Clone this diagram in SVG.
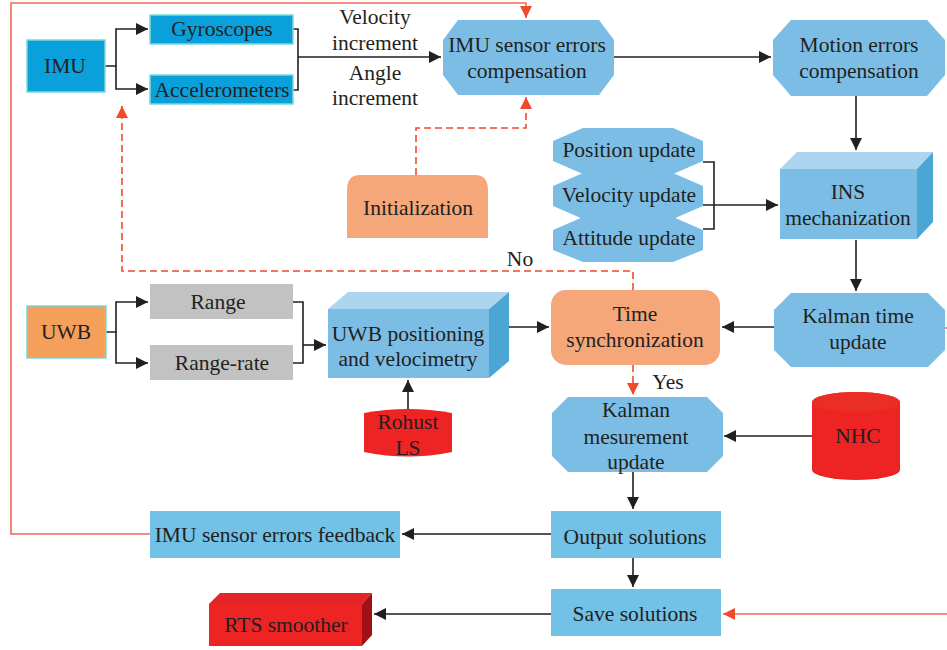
<svg xmlns="http://www.w3.org/2000/svg" width="947" height="650" viewBox="0 0 947 650">
<defs>
<marker id="ab" markerUnits="userSpaceOnUse" markerWidth="13" markerHeight="12" refX="12" refY="6" orient="auto"><path d="M0,0 L12,6 L0,12 z" fill="#231f20"/></marker>
<marker id="ar" markerUnits="userSpaceOnUse" markerWidth="13" markerHeight="12" refX="12" refY="6" orient="auto"><path d="M0,0 L12,6 L0,12 z" fill="#ef4a2a"/></marker>
</defs>
<style>
text{font-family:"Liberation Serif","Times New Roman",serif;font-size:21.5px;fill:#231f20;text-anchor:middle;dominant-baseline:central}
.blue{fill:#7bbde5}
.box{fill:#72c1e6}
.cyan{fill:#0aa0dc;stroke:#7fd8d8;stroke-width:1.5}
.gray{fill:#c1c2c1}
.org{fill:#f5a77a}
.red{fill:#ee2424}
.top{fill:#acd6ef}
.side{fill:#4ba6d6}
.c{fill:none;stroke:#231f20;stroke-width:1.6}
.cg{fill:none;stroke:#555;stroke-width:1.8}
.r{fill:none;stroke:#ef6a55;stroke-width:1.6}
.rd{fill:none;stroke:#ef4a2a;stroke-width:1.6;stroke-dasharray:7 4}
</style>
<g id="connectors">
<path class="r" d="M150,534 H11 V3 H526 V18" marker-end="url(#ar)"/>
<path class="r" d="M947,614 H723" marker-end="url(#ar)"/>
<path class="r" d="M945,328 H947"/>
<path class="rd" d="M416,175 V128 H526 V97" marker-end="url(#ar)"/>
<path class="rd" d="M633,290 V271 H122 V106" marker-end="url(#ar)"/>
<path class="rd" d="M633,365 V395" marker-end="url(#ar)"/>
<path class="c" d="M105,66 H116 V29 H148" marker-end="url(#ab)"/>
<path class="c" d="M116,66 V89 H148" marker-end="url(#ab)"/>
<path class="c" d="M293,29 H298 V90 H293"/>
<path class="c" d="M298,57 H441" marker-end="url(#ab)"/>
<path class="c" d="M614,57 H771" marker-end="url(#ab)"/>
<path class="c" d="M856,96 V150" marker-end="url(#ab)"/>
<path class="c" d="M703,162 H714 V229 H703"/>
<path class="c" d="M703,205 H778" marker-end="url(#ab)"/>
<path class="c" d="M856,240 V291" marker-end="url(#ab)"/>
<path class="c" d="M774,327 H722" marker-end="url(#ab)"/>
<path class="c" d="M106,332 H116 V302 H148" marker-end="url(#ab)"/>
<path class="c" d="M116,332 V363 H148" marker-end="url(#ab)"/>
<path class="c" d="M293,302 H303 V363 H293"/>
<path class="c" d="M303,345 H326" marker-end="url(#ab)"/>
<path class="c" d="M408,409 V380" marker-end="url(#ab)"/>
<path class="c" d="M490,327 H549" marker-end="url(#ab)"/>
<path class="c" d="M812,436 H724" marker-end="url(#ab)"/>
<path class="c" d="M633,472 V509" marker-end="url(#ab)"/>
<path class="cg" d="M551,534 H402" marker-end="url(#ab)"/>
<path class="c" d="M633,558 V587" marker-end="url(#ab)"/>
<path class="cg" d="M551,614 H374" marker-end="url(#ab)"/>
</g>
<g id="labels">
<text x="375" y="17">Velocity</text>
<text x="375" y="43">increment</text>
<text x="375" y="73">Angle</text>
<text x="375" y="98">increment</text>
<text x="520" y="259">No</text>
<text x="668" y="382">Yes</text>
</g>
<g id="imu"><rect class="cyan" x="27" y="40" width="78" height="52"/><text x="65" y="66">IMU</text></g>
<g id="gyro"><rect class="cyan" x="150" y="15" width="143" height="29"/><text x="222" y="29">Gyroscopes</text></g>
<g id="accel"><rect class="cyan" x="150" y="75" width="143" height="29"/><text x="222" y="90">Accelerometers</text></g>
<g id="imucomp"><path class="blue" d="M458,20 H599 L614,40 V75 L599,95 H458 L443,75 V40 z"/><text x="527" y="45">IMU sensor errors</text><text x="527" y="71">compensation</text></g>
<g id="motion"><path class="blue" d="M791,20 H927 L945,40 V75 L927,96 H791 L773,75 V40 z"/><text x="859" y="45">Motion errors</text><text x="859" y="71">compensation</text></g>
<g id="init"><path class="org" d="M360,175 H475 Q488,175 488,190 V238 H347 V190 Q347,175 360,175 z"/><text x="418" y="208">Initialization</text></g>
<g id="updates">
<path class="blue" d="M583,128 H673 L703,141 V161 L673,174 H583 L553,161 V141 z"/>
<path class="blue" d="M583,173 H673 L703,186 V206 L673,219 H583 L553,206 V186 z"/>
<path class="blue" d="M583,217 H673 L703,230 V250 L673,262 H583 L553,250 V230 z"/>
<text x="629" y="150">Position update</text>
<text x="629" y="195">Velocity update</text>
<text x="629" y="238">Attitude update</text>
</g>
<g id="ins"><path class="top" d="M780,169 L797,152 H933 L917,169 z"/><path class="side" d="M917,169 L933,152 V222 L917,239 z"/><rect class="blue" x="780" y="169" width="137" height="70"/><text x="848" y="192">INS</text><text x="848" y="218">mechanization</text></g>
<g id="uwb"><rect x="27" y="306" width="79" height="52" fill="#f5a05a" stroke="#7fd8d8" stroke-width="1.5"/><text x="66" y="332">UWB</text></g>
<g id="range"><rect class="gray" x="150" y="284" width="143" height="35"/><text x="218" y="302">Range</text></g>
<g id="rangerate"><rect class="gray" x="150" y="345" width="143" height="35"/><text x="222" y="363">Range-rate</text></g>
<g id="uwbpos"><path class="top" d="M328,309 L348,292 H509 L489,309 z"/><path class="side" d="M489,309 L509,292 V361 L489,378 z"/><rect class="blue" x="328" y="309" width="161" height="69"/><text x="408" y="334">UWB positioning</text><text x="408" y="359">and velocimetry</text></g>
<g id="rohust"><path class="red" d="M364,413 Q408,405 452,413 V452 Q408,461 364,452 z"/><text x="408" y="422">Rohust</text><text x="408" y="448">LS</text></g>
<g id="timesync"><rect class="org" x="551" y="290" width="169" height="75" rx="15"/><text x="635" y="314">Time</text><text x="635" y="340">synchronization</text></g>
<g id="kalmantime"><path class="blue" d="M791,293 H928 L945,310 V350 L928,367 H791 L774,350 V310 z"/><text x="858" y="316">Kalman time</text><text x="858" y="342">update</text></g>
<g id="kalmanmeas"><path class="blue" d="M568,397 H707 L723,413 V456 L707,472 H568 L552,456 V413 z"/><text x="636" y="410">Kalman</text><text x="636" y="437">mesurement</text><text x="636" y="462">update</text></g>
<g id="nhc"><path class="red" d="M812,402 A44,10 0 0 1 900,402 V470 A44,10 0 0 1 812,470 z"/><ellipse cx="856" cy="402" rx="44" ry="10" fill="#ea2e26"/><text x="858" y="436">NHC</text></g>
<g id="output"><rect class="box" x="551" y="511" width="170" height="47"/><text x="635" y="537">Output solutions</text></g>
<g id="feedback"><rect class="box" x="150" y="511" width="250" height="47"/><text x="275" y="535">IMU sensor errors feedback</text></g>
<g id="save"><rect class="box" x="551" y="589" width="170" height="47"/><text x="635" y="614">Save solutions</text></g>
<g id="rts"><path d="M209,604 L220,593 H372 L362,604 z" fill="#e42428"/><path d="M362,604 L372,593 V635 L362,646 z" fill="#a01015"/><rect class="red" x="209" y="604" width="153" height="42"/><text x="286" y="625">RTS smoother</text></g>
</svg>
